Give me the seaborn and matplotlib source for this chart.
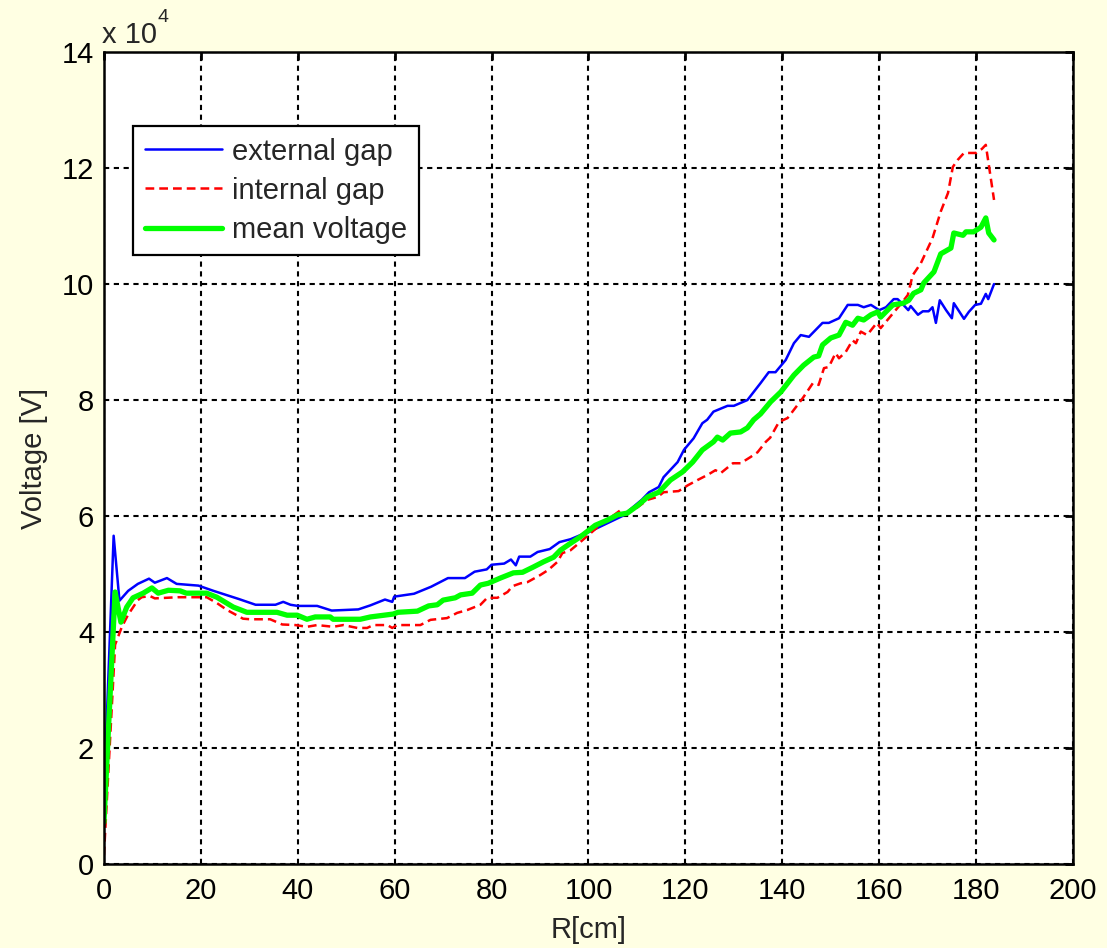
import numpy as np
import pandas as pd
import matplotlib
matplotlib.use("Agg")
import matplotlib.pyplot as plt
import seaborn as sns

# ---- data (voltage in units of 1e4 V) ----
ext_r = [0, 2, 3.2, 5, 7, 9.3, 10.5, 13, 15, 19.5, 22.6, 27.8, 31.3, 35.4, 37, 38.5, 40, 44, 47,
         52.5, 55, 58, 59.5, 59.9, 64, 67.5, 71, 74.5, 76.5, 79, 80, 82.6, 84, 85, 85.7, 88, 89.5,
         92, 94, 96.3, 98.3, 100, 107, 111, 112.5, 114.5, 115.5, 118.4, 119.7, 121.7, 123.5,
         124.5, 125.8, 128.7, 130, 132.8, 135.5, 137.2, 138.6, 140.7, 142.4, 143.8, 145.5, 148.3,
         149.6, 151.7, 153.5, 155.6, 156.8, 158.3, 160, 161.4, 163, 163.8, 165, 166, 166.5, 168,
         169, 170.2, 171, 171.7, 172.5, 173.8, 175, 175.4, 177.5, 178.5, 179.8, 181, 182, 182.5,
         183.7]
ext_v = [1.19, 5.66, 4.54, 4.71, 4.83, 4.92, 4.85, 4.93, 4.83, 4.80, 4.71, 4.57, 4.47, 4.47, 4.52,
         4.47, 4.45, 4.45, 4.37, 4.39, 4.46, 4.56, 4.52, 4.61, 4.66, 4.78, 4.93, 4.93, 5.04, 5.08,
         5.16, 5.18, 5.25, 5.15, 5.30, 5.30, 5.38, 5.43, 5.55, 5.60, 5.67, 5.72, 6.00, 6.28, 6.41,
         6.50, 6.67, 6.93, 7.14, 7.34, 7.60, 7.66, 7.80, 7.90, 7.90, 8.00, 8.29, 8.48, 8.48, 8.69,
         8.98, 9.12, 9.09, 9.33, 9.33, 9.41, 9.64, 9.64, 9.60, 9.64, 9.55, 9.60, 9.74, 9.74, 9.64,
         9.55, 9.62, 9.47, 9.53, 9.53, 9.60, 9.33, 9.72, 9.55, 9.41, 9.67, 9.40, 9.52, 9.64, 9.66,
         9.83, 9.74, 10.0]

int_r = [0, 2.3, 3.7, 5, 7, 7.8, 9.5, 10.5, 15.3, 21.2, 23.3, 25.4, 28.7, 30.2, 34.3, 36.8, 39.5,
         41.9, 44, 47.3, 49.4, 52.3, 54.3, 55.6, 58.5, 59.5, 60.5, 65.3, 67.4, 70.8, 72.9, 75,
         77.7, 79.1, 81.2, 83.3, 84.3, 86, 87.4, 90, 91.7, 93.6, 94.6, 96.3, 98.3, 101.9, 104.5,
         106.6, 107.6, 109.3, 112.2, 114.3, 115.5, 118.6, 120.5, 122.5, 124.6, 126.2, 127.3,
         129.8, 131.4, 133.5, 134.9, 136.6, 137.5, 139.3, 141.1, 144.2, 146.3, 147.5, 148.6,
         149.6, 151, 151.7, 153.1, 154.5, 155.2, 156.2, 157.5, 159.5, 160.3, 162, 164.5, 165.9,
         166.9, 168.6, 171, 172.7, 174.2, 175.2, 176.2, 177.5, 180, 181.2, 182, 183.7]
int_v = [0.15, 3.78, 4.09, 4.30, 4.55, 4.60, 4.62, 4.58, 4.60, 4.60, 4.50, 4.38, 4.23, 4.22, 4.22,
         4.13, 4.12, 4.09, 4.12, 4.09, 4.12, 4.07, 4.07, 4.12, 4.12, 4.07, 4.12, 4.12, 4.21, 4.24,
         4.33, 4.38, 4.47, 4.59, 4.59, 4.69, 4.79, 4.84, 4.86, 4.98, 5.07, 5.21, 5.36, 5.41, 5.55,
         5.81, 5.97, 6.10, 6.05, 6.10, 6.28, 6.33, 6.41, 6.43, 6.53, 6.62, 6.71, 6.79, 6.74, 6.91,
         6.91, 7.02, 7.10, 7.28, 7.35, 7.62, 7.69, 8.03, 8.29, 8.26, 8.55, 8.57, 8.81, 8.72, 8.83,
         9.03, 8.98, 9.18, 9.12, 9.33, 9.24, 9.41, 9.66, 9.81, 10.15, 10.36, 10.79, 11.25, 11.57,
         12.02, 12.14, 12.26, 12.26, 12.33, 12.40, 11.45]

mean_r = [0, 2.3, 3.5, 4.7, 6, 8.1, 9.9, 11.2, 13.3, 15.7, 17, 21.2, 23.3, 26.7, 29.5, 35.7, 37.8,
          39.9, 41.9, 43.6, 46.7, 47.3, 52.9, 55, 59.7, 60.7, 64.7, 67, 68.8, 70, 72.5, 73.6, 76,
          77.7, 79.3, 81.8, 84.5, 86.4, 88.6, 90.7, 92.8, 94.2, 96.3, 98.3, 101.4, 103.9, 106, 108,
          110.3, 112.2, 114.5, 116.9, 119.4, 121.5, 123.5, 125.8, 126.6, 127.7, 129.3, 131.4,
          132.8, 134.1, 135.5, 137.6, 139.7, 142.4, 144.4, 146.5, 147.5, 148.3, 150, 151.7, 153.1,
          154.5, 155.6, 156.8, 158.3, 159.7, 160.3, 162.8, 165, 166.1, 167.1, 168.6, 169.2, 171.3,
          172.7, 174.8, 175.4, 177.3, 177.9, 179.5, 181, 182, 182.6, 183.7]
mean_v = [0.72, 4.69, 4.17, 4.43, 4.59, 4.67, 4.76, 4.67, 4.72, 4.71, 4.67, 4.67, 4.60, 4.43, 4.34,
          4.34, 4.29, 4.29, 4.22, 4.26, 4.26, 4.22, 4.22, 4.26, 4.31, 4.34, 4.36, 4.45, 4.47, 4.55,
          4.59, 4.64, 4.67, 4.81, 4.84, 4.93, 5.02, 5.03, 5.12, 5.21, 5.29, 5.41, 5.53, 5.64, 5.84,
          5.93, 6.02, 6.05, 6.19, 6.33, 6.41, 6.62, 6.76, 6.93, 7.14, 7.28, 7.36, 7.31, 7.43, 7.45,
          7.52, 7.66, 7.76, 7.97, 8.14, 8.43, 8.60, 8.74, 8.76, 8.95, 9.07, 9.12, 9.34, 9.29, 9.41,
          9.38, 9.47, 9.52, 9.43, 9.64, 9.67, 9.72, 9.84, 9.90, 10.02, 10.21, 10.52, 10.62, 10.88,
          10.84, 10.90, 10.90, 10.98, 11.14, 10.88, 10.76]

labels = ["external gap", "internal gap", "mean voltage"]
x_ticks = [0, 20, 40, 60, 80, 100, 120, 140, 160, 180, 200]
y_ticks = [0, 2, 4, 6, 8, 10, 12, 14]

# ---- style ----
sns.set_style("white")
plt.rcParams["font.family"] = ["Liberation Sans", "DejaVu Sans"]
bg = "#ffffe3"
FS = 21

fig = plt.figure(figsize=(11.07, 9.48), dpi=100, facecolor=bg)
ax = fig.add_axes([0.0939, 0.0886, 0.8754, 0.8565])
ax.set_facecolor("white")

df_e = pd.DataFrame({"R": ext_r, "V": ext_v})
df_i = pd.DataFrame({"R": int_r, "V": int_v})
df_m = pd.DataFrame({"R": mean_r, "V": mean_v})

sns.lineplot(data=df_e, x="R", y="V", ax=ax, color="#0000ff", lw=1.8, sort=False,
             estimator=None, label=labels[0])
sns.lineplot(data=df_i, x="R", y="V", ax=ax, color="#ff0000", lw=1.8, sort=False,
             estimator=None, label=labels[1], dashes=False)
ax.lines[-1].set_dashes((3.5, 2.0))
sns.lineplot(data=df_m, x="R", y="V", ax=ax, color="#00ff00", lw=3.8, sort=False,
             estimator=None, label=labels[2])

ax.set_xlim(0, 200)
ax.set_ylim(0, 14)
ax.set_xticks(x_ticks)
ax.set_yticks(y_ticks)
ax.set_xticklabels([str(t) for t in x_ticks])
ax.set_yticklabels([str(t) for t in y_ticks])
ax.tick_params(axis="both", which="both", direction="in", length=6, width=2,
               top=True, right=True, labelsize=FS, colors="black")
ax.tick_params(axis="x", pad=9)
ax.tick_params(axis="y", pad=7)
ax.grid(True, color="black", linestyle=(0, (2.5, 2.2)), lw=1.5)
for s in ax.spines.values():
    s.set_visible(True)
    s.set_color("black")
    s.set_linewidth(1.8)

ax.set_xlabel("R[cm]", fontsize=FS, labelpad=8)
ax.set_ylabel("Voltage [V]", fontsize=FS, labelpad=10)

# exponent label
ax.text(-0.002, 1.011, "x 10", transform=ax.transAxes, fontsize=FS, ha="left", va="baseline")
ax.text(0.055, 1.037, "4", transform=ax.transAxes, fontsize=14, ha="left", va="baseline")

leg = ax.legend(loc="upper left", bbox_to_anchor=(0.030, 0.909), borderaxespad=0,
                fontsize=FS, handlelength=2.65, handletextpad=0.35, labelspacing=0.38,
                borderpad=0.4, fancybox=False, framealpha=1, edgecolor="black")
leg.get_frame().set_linewidth(1.6)

fig.savefig("out.png", dpi=100, facecolor=bg)
